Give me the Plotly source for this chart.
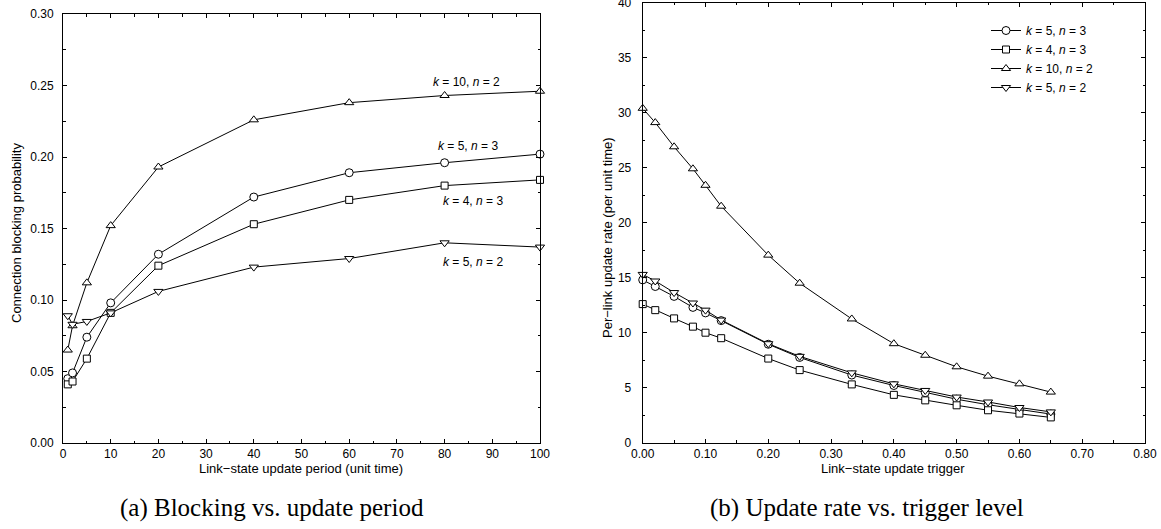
import plotly.graph_objects as go

# ---------------- data ----------------
period = [1, 2, 5, 10, 20, 40, 60, 80, 100]
block_k5n3 = [0.045, 0.049, 0.074, 0.098, 0.132, 0.172, 0.189, 0.196, 0.202]
block_k4n3 = [0.041, 0.043, 0.059, 0.091, 0.124, 0.153, 0.170, 0.180, 0.184]
block_k10n2 = [0.065, 0.082, 0.112, 0.152, 0.193, 0.226, 0.238, 0.243, 0.246]
block_k5n2 = [0.089, 0.083, 0.085, 0.091, 0.106, 0.123, 0.129, 0.140, 0.137]

trigger = [0.0, 0.02, 0.05, 0.08, 0.10, 0.125, 0.20, 0.25, 0.333, 0.40, 0.45, 0.50, 0.55, 0.60, 0.65]
rate_k5n3 = [14.8, 14.2, 13.3, 12.3, 11.8, 11.1, 8.95, 7.75, 6.15, 5.2, 4.55, 3.95, 3.45, 3.0, 2.6]
rate_k4n3 = [12.6, 12.05, 11.3, 10.55, 10.0, 9.5, 7.65, 6.6, 5.3, 4.35, 3.85, 3.4, 2.95, 2.65, 2.3]
rate_k10n2 = [30.4, 29.1, 26.9, 24.9, 23.4, 21.5, 17.05, 14.5, 11.25, 9.0, 7.95, 6.9, 6.05, 5.35, 4.6]
rate_k5n2 = [15.3, 14.7, 13.65, 12.7, 12.05, 11.15, 9.0, 7.85, 6.35, 5.35, 4.75, 4.15, 3.7, 3.2, 2.8]

series_names = ["<i>k</i> = 5, <i>n</i> = 3", "<i>k</i> = 4, <i>n</i> = 3",
                "<i>k</i> = 10, <i>n</i> = 2", "<i>k</i> = 5, <i>n</i> = 2"]
symbols = ["circle", "square", "triangle-up", "triangle-down"]
sizes = [8, 7, 8, 8]

# label positions for left-panel curve annotations (x, y in data units)
label_x = [85, 86, 84.5, 86]
label_y = [0.2075, 0.169, 0.2525, 0.1265]

W, H = 1161, 529
FONT = "Liberation Sans, Arial, sans-serif"

fig = go.Figure()

left_vals = [block_k5n3, block_k4n3, block_k10n2, block_k5n2]
right_vals = [rate_k5n3, rate_k4n3, rate_k10n2, rate_k5n2]

for i in range(4):
    fig.add_trace(go.Scatter(
        x=period, y=left_vals[i], mode="lines+markers", name=series_names[i],
        showlegend=False, xaxis="x", yaxis="y", cliponaxis=False,
        line=dict(color="black", width=1),
        marker=dict(symbol=symbols[i], size=sizes[i], color="white",
                    line=dict(color="black", width=1))))
for i in range(4):
    fig.add_trace(go.Scatter(
        x=trigger, y=right_vals[i], mode="lines+markers", name=series_names[i],
        showlegend=True, xaxis="x2", yaxis="y2", cliponaxis=False,
        line=dict(color="black", width=1),
        marker=dict(symbol=symbols[i], size=sizes[i], color="white",
                    line=dict(color="black", width=1))))

def px_x(p):
    return p / W

def px_y(p):
    return 1 - p / H

axis_common = dict(showline=True, linecolor="black", linewidth=1, mirror="allticks",
                   ticks="inside", tickcolor="black", ticklen=4, tickwidth=1,
                   showgrid=False, zeroline=False, automargin=False,
                   ticklabeloverflow="allow",
                   tickfont=dict(family=FONT, size=12, color="black"))

fig.update_layout(
    width=W, height=H,
    margin=dict(l=0, r=0, t=0, b=0, autoexpand=False),
    paper_bgcolor="white", plot_bgcolor="white",
    font=dict(family=FONT, size=12, color="black"),
    xaxis=dict(domain=[px_x(63), px_x(540)], range=[0, 100], dtick=10, tick0=0,
               minor=dict(dtick=5, ticks="inside", ticklen=2.5, tickcolor="black"),
               anchor="y", ticklabelstandoff=0, **axis_common),
    yaxis=dict(domain=[px_y(443), px_y(14)], range=[0, 0.30], dtick=0.05, tick0=0,
               tickformat=".2f",
               minor=dict(dtick=0.025, ticks="inside", ticklen=2.5, tickcolor="black"),
               anchor="x", ticklabelstandoff=6, **axis_common),
    xaxis2=dict(domain=[px_x(642.7), px_x(1145)], range=[0, 0.80], dtick=0.1, tick0=0,
                tickformat=".2f",
                minor=dict(dtick=0.05, ticks="inside", ticklen=2.5, tickcolor="black"),
                anchor="y2", ticklabelstandoff=0, **axis_common),
    yaxis2=dict(domain=[px_y(442.7), px_y(2.7)], range=[0, 40], dtick=5, tick0=0,
                minor=dict(dtick=2.5, ticks="inside", ticklen=2.5, tickcolor="black"),
                anchor="x2", ticklabelstandoff=8, **axis_common),
    legend=dict(x=px_x(986), y=px_y(16), xanchor="left", yanchor="top",
                bgcolor="rgba(0,0,0,0)", borderwidth=0, itemwidth=30,
                font=dict(family=FONT, size=12, color="black"), tracegroupgap=0),
)

# curve labels (left panel)
for i in range(4):
    fig.add_annotation(x=label_x[i], y=label_y[i], xref="x", yref="y",
                       text=series_names[i], showarrow=False,
                       xanchor="center", yanchor="middle",
                       font=dict(family=FONT, size=12, color="black"))

# axis titles and captions
def paper_text(x, y, text, size, family=FONT, angle=0):
    fig.add_annotation(x=px_x(x), y=px_y(y), xref="paper", yref="paper",
                       text=text, showarrow=False, textangle=angle,
                       xanchor="center", yanchor="middle",
                       font=dict(family=family, size=size, color="black"))

paper_text(301, 468, "Link\u2212state update period (unit time)", 13)
paper_text(16, 233, "Connection blocking probability", 13, angle=-90)
paper_text(893, 468, "Link\u2212state update trigger", 13)
paper_text(607, 238, "Per\u2212link update rate (per unit time)", 13, angle=-90)

SERIF = "Liberation Serif, DejaVu Serif, serif"
paper_text(272, 508, "(a) Blocking vs. update period", 25, family=SERIF)
paper_text(867, 508, "(b) Update rate vs. trigger level", 25, family=SERIF)

fig.write_html("out.html")
